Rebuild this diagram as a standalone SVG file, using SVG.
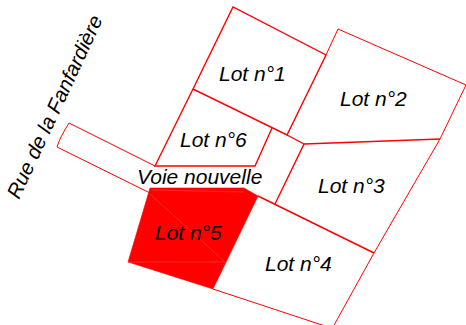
<svg xmlns="http://www.w3.org/2000/svg" width="466" height="325" viewBox="0 0 466 325">
<style>
.e{fill:none;stroke:#ff0000;stroke-width:1;stroke-linejoin:miter}
.h{stroke-width:1.4}
.t{font-family:"Liberation Sans",Arial,sans-serif;font-size:21px;font-style:italic;fill:#000}
</style>
<rect width="466" height="325" fill="#fff"/>
<g id="connectors">
<path class="e" d="M150,193 L57,147 Q60,137 69,123 L155,166"/>
</g>
<g id="lot1">
<path class="e h" d="M193,89 L233,7 L326,55 L287,135 L193,89"/>
<text class="t" x="219" y="81">Lot n°1</text>
</g>
<g id="lot2">
<path class="e" d="M326,55 L338,29 L466,85 L440,139"/>
<path class="e h" d="M304,144 L440,139"/>
<text class="t" x="340" y="106">Lot n°2</text>
</g>
<g id="lot3">
<path class="e" d="M440,139 L374,253"/>
<path class="e h" d="M287,135 L304,144 L275,204"/>
<text class="t" x="318" y="193">Lot n°3</text>
</g>
<g id="lot4">
<path class="e h" d="M258,196 L374,253"/>
<path class="e" d="M374,253 L333,327 M213,289 L325,326"/>
<text class="t" x="265" y="271">Lot n°4</text>
</g>
<g id="lot5">
<path d="M150,188 L244,188 L258,196 L213,289 L128,262 Z" fill="#ff0000" stroke="#ff0000" stroke-width="0.6"/>
<path d="M150,194 L225,262 M128,262 L225,262 M152,190 L244,192" fill="none" stroke="#ff4040" stroke-width="0.6"/>
<text class="t" x="155" y="240">Lot n°5</text>
</g>
<g id="lot6">
<path class="e h" d="M193,89 L155,166 L255,166 L272,128"/>
<text class="t" x="180" y="147">Lot n°6</text>
</g>
<g id="voie">
<text class="t" x="137" y="184">Voie nouvelle</text>
</g>
<g id="rue">
<text class="t" font-size="20.6" style="font-size:20.6px" transform="translate(19,200) rotate(-65)">Rue de la Fanfardière</text>
</g>
</svg>
